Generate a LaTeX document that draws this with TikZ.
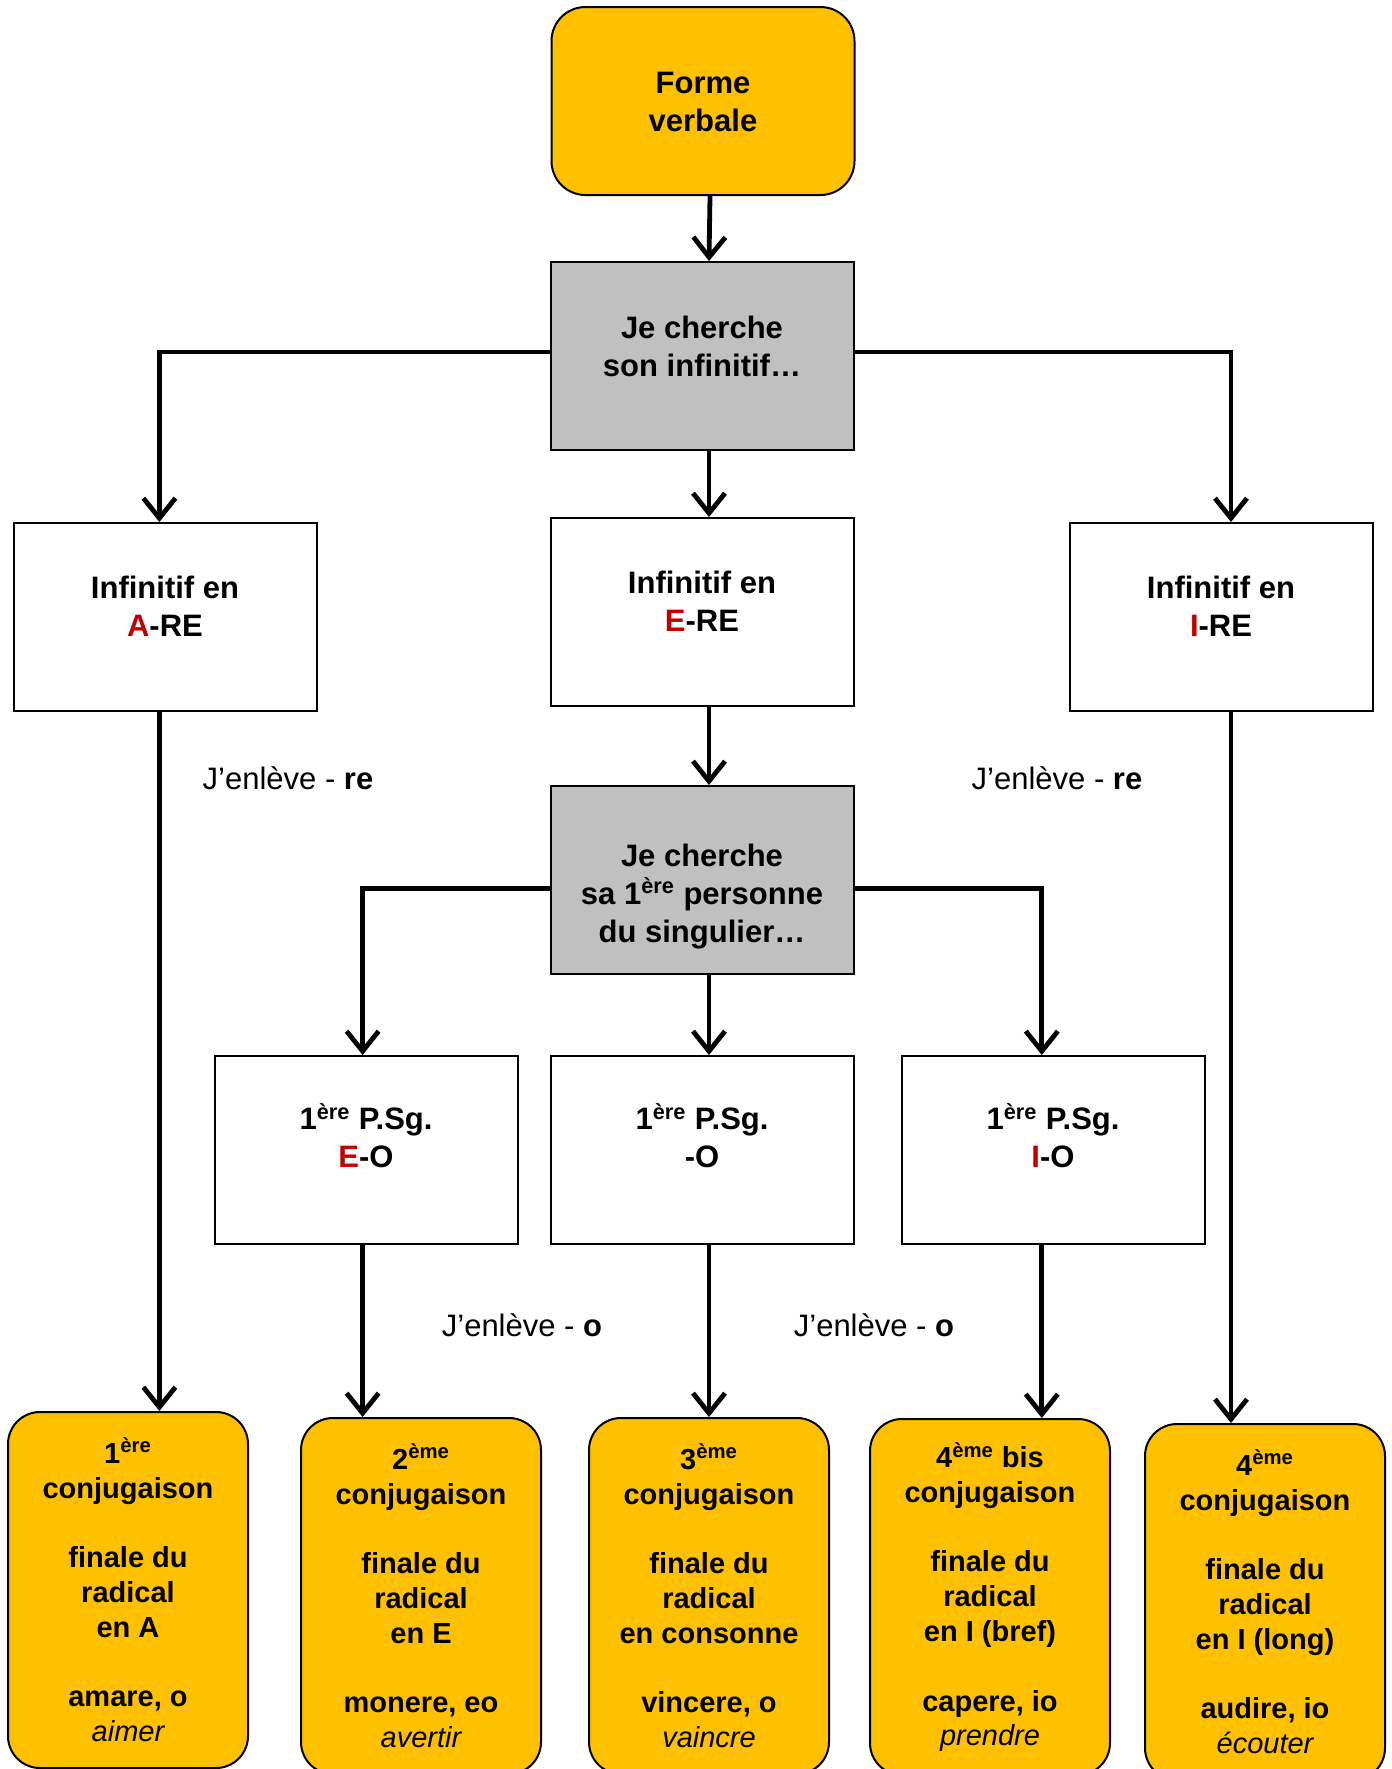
\documentclass[tikz,border=0pt]{standalone}
\usepackage{fontspec}
\setmainfont{Liberation Sans}
\usetikzlibrary{arrows.meta}

\definecolor{gold}{HTML}{FFC000}
\definecolor{greybox}{HTML}{C0C0C0}
\definecolor{vowelred}{HTML}{C00000}
\newcommand{\vowel}[1]{\textcolor{vowelred}{#1}}
\newcommand{\ere}{\textsuperscript{ère}}
\newcommand{\eme}{\textsuperscript{ème}}
\newcommand{\gloss}[1]{{\mdseries\itshape #1}}

\tikzset{
    box/.style={draw=black, line width=1pt, minimum width=151.5pt, minimum height=94pt,
        align=center, font=\fontsize{15.5}{19}\selectfont\bfseries},
    textlift/.style={text depth=0pt, text height=#1},
    askbox/.style={box, fill=greybox},
    startbox/.style={box, fill=gold, rounded corners=17pt},
    conjbox/.style={draw=black, line width=1pt, fill=gold, rounded corners=16pt,
        minimum width=120pt, minimum height=178pt, align=center,
        font=\fontsize{14.5}{17.4}\selectfont\bfseries},
    link/.style={line width=2.4pt, -{Straight Barb[length=10pt, width=16pt]}},
    note/.style={font=\fontsize{15.5}{19}\selectfont},
}

\begin{document}
\begin{tikzpicture}[x=0.5pt, y=-0.5pt]
    \useasboundingbox (0, 0) rectangle (1392, 1769);

    \node[startbox, textlift=30pt] (forme) at (703, 101) {Forme\\verbale};
    \node[askbox, textlift=20pt] (infsearch) at (702, 356) {Je cherche\\son infinitif…};

    \node[box, textlift=19pt] (are) at (165, 617) {Infinitif en\\\vowel{A}-RE};
    \node[box, textlift=19pt] (ere) at (702, 612) {Infinitif en\\\vowel{E}-RE};
    \node[box, textlift=19pt] (ire) at (1221, 617) {Infinitif en\\\vowel{I}-RE};

    \node[askbox, textlift=62pt] (persearch) at (702, 880) {Je cherche\\sa 1\ere{} personne\\du singulier…};

    \node[box, textlift=17.5pt] (eo) at (366, 1150) {1\ere{} P.Sg.\\\vowel{E}-O};
    \node[box, textlift=17.5pt] (o) at (702, 1150) {1\ere{} P.Sg.\\-O};
    \node[box, textlift=17.5pt] (io) at (1053, 1150) {1\ere{} P.Sg.\\\vowel{I}-O};

    \node[conjbox] (conjA) at (128, 1590) {1\ere\\conjugaison\\[17.4pt]finale du\\radical\\en A\\[17.4pt]amare, o\\\gloss{aimer}};
    \node[conjbox] (conjE) at (421, 1596) {2\eme\\conjugaison\\[17.4pt]finale du\\radical\\en E\\[17.4pt]monere, eo\\\gloss{avertir}};
    \node[conjbox] (conjC) at (709, 1596) {3\eme\\conjugaison\\[17.4pt]finale du\\radical\\en consonne\\[17.4pt]vincere, o\\\gloss{vaincre}};
    \node[conjbox] (conjIb) at (990, 1597) {4\eme{} bis\\conjugaison\\[17.4pt]finale du\\radical\\en I (bref)\\[17.4pt]capere, io\\\gloss{prendre}};
    \node[conjbox] (conjIl) at (1265, 1602) {4\eme\\conjugaison\\[17.4pt]finale du\\radical\\en I (long)\\[17.4pt]audire, io\\\gloss{écouter}};

    \node[note] (cutreA) at (288, 778) {J’enlève - \textbf{re}};
    \node[note] (cutreI) at (1057, 778) {J’enlève - \textbf{re}};
    \node[note] (cutoE) at (522, 1325) {J’enlève - \textbf{o}};
    \node[note] (cutoI) at (874, 1325) {J’enlève - \textbf{o}};

    \draw[link] ([xshift=3.5pt]forme.south) -- ([xshift=3.5pt]infsearch.north);
    \draw[link] ([yshift=2pt]infsearch.west) -| ([xshift=-2.8pt]are.north);
    \draw[link] ([yshift=2pt]infsearch.east) -| ([xshift=5pt]ire.north);
    \draw[link] ([xshift=3.5pt]infsearch.south) -- ([xshift=3.5pt]ere.north);
    \draw[link] ([xshift=3.5pt]ere.south) -- ([xshift=3.5pt]persearch.north);
    \draw[link] ([yshift=-4.2pt]persearch.west) -| ([xshift=-1.7pt]eo.north);
    \draw[link] ([yshift=-4.2pt]persearch.east) -| ([xshift=-5.6pt]io.north);
    \draw[link] ([xshift=3.5pt]persearch.south) -- ([xshift=3.5pt]o.north);

    \draw[link] ([xshift=-2.8pt]are.south) -- ([xshift=-2.8pt]are.south |- conjA.north);
    \draw[link] ([xshift=-1.7pt]eo.south) -- ([xshift=-1.7pt]eo.south |- conjE.north);
    \draw[link] ([xshift=3.5pt]o.south) -- ([xshift=3.5pt]o.south |- conjC.north);
    \draw[link] ([xshift=-5.6pt]io.south) -- ([xshift=-5.6pt]io.south |- conjIb.north);
    \draw[link] ([xshift=5pt]ire.south) -- ([xshift=5pt]ire.south |- conjIl.north);
\end{tikzpicture}
\end{document}
